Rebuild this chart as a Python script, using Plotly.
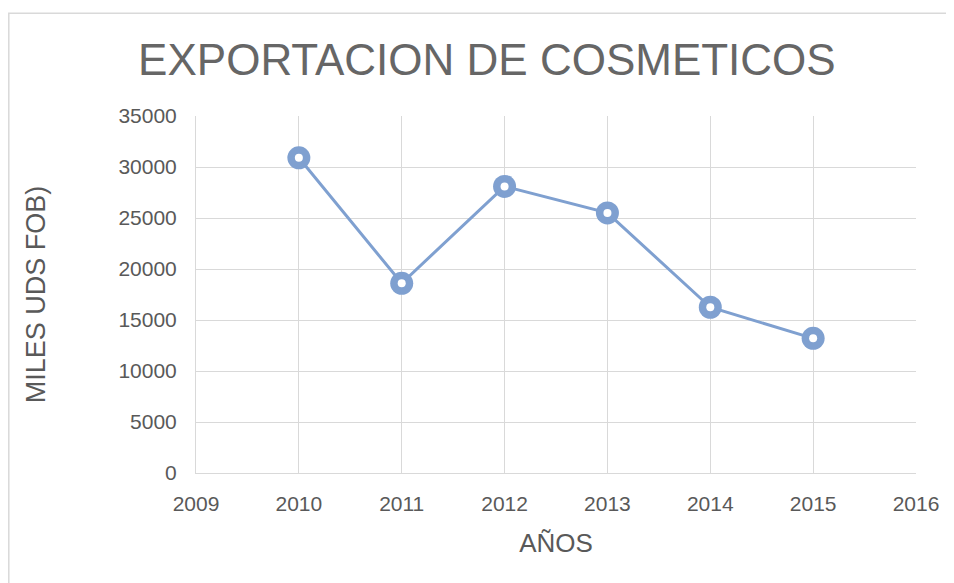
import plotly.graph_objects as go

years = [2010, 2011, 2012, 2013, 2014, 2015]
exports = [30900, 18600, 28100, 25500, 16250, 13200]

title_text = 'EXPORTACION DE COSMETICOS'
x_title = 'AÑOS'
y_title = 'MILES UDS FOB)'

blue = 'rgb(127,160,208)'
grey_text = '#595959'
grid = '#d9d9d9'

fig = go.Figure()
fig.add_trace(go.Scatter(x=years, y=exports, mode='lines+markers',
                         line=dict(color=blue, width=3),
                         marker=dict(symbol='circle', size=23, color=blue),
                         showlegend=False))
# white hole in the ring markers
fig.add_trace(go.Scatter(x=years, y=exports, mode='markers',
                         marker=dict(symbol='circle', size=8, color='white'),
                         showlegend=False, hoverinfo='skip'))

# outer chart border (left and top edges only, the rest runs off the page)
fig.add_shape(type='path', xref='paper', yref='paper',
              path='M -0.26,-0.6 L -0.26,1.288 L 1.6,1.288',
              line=dict(color='#d9d9d9', width=1.5), layer='below')

fig.update_layout(
    width=954, height=583,
    margin=dict(l=188, r=46, t=108, b=118),
    paper_bgcolor='white', plot_bgcolor='white',
    font=dict(family='Liberation Sans', color=grey_text),
    title=dict(text=title_text, x=0.502, xanchor='center', y=0.911, yanchor='middle',
               font=dict(size=44, color='#666666', family='Liberation Sans')),
    xaxis=dict(range=[2009, 2016], dtick=1, tick0=2009, showgrid=True, gridcolor=grid,
               showline=True, linecolor=grid, zeroline=False, ticks='',
               tickfont=dict(size=21), ticklabelstandoff=12,
               title=dict(text=x_title, font=dict(size=26), standoff=19)),
    yaxis=dict(range=[0, 35000], dtick=5000, tickformat='d', showgrid=True, gridcolor=grid,
               showline=True, linecolor=grid, zeroline=False, ticks='',
               tickfont=dict(size=21), ticklabelstandoff=14,
               title=dict(text=y_title, font=dict(size=27), standoff=64)),
)

fig.write_html('out.html')
